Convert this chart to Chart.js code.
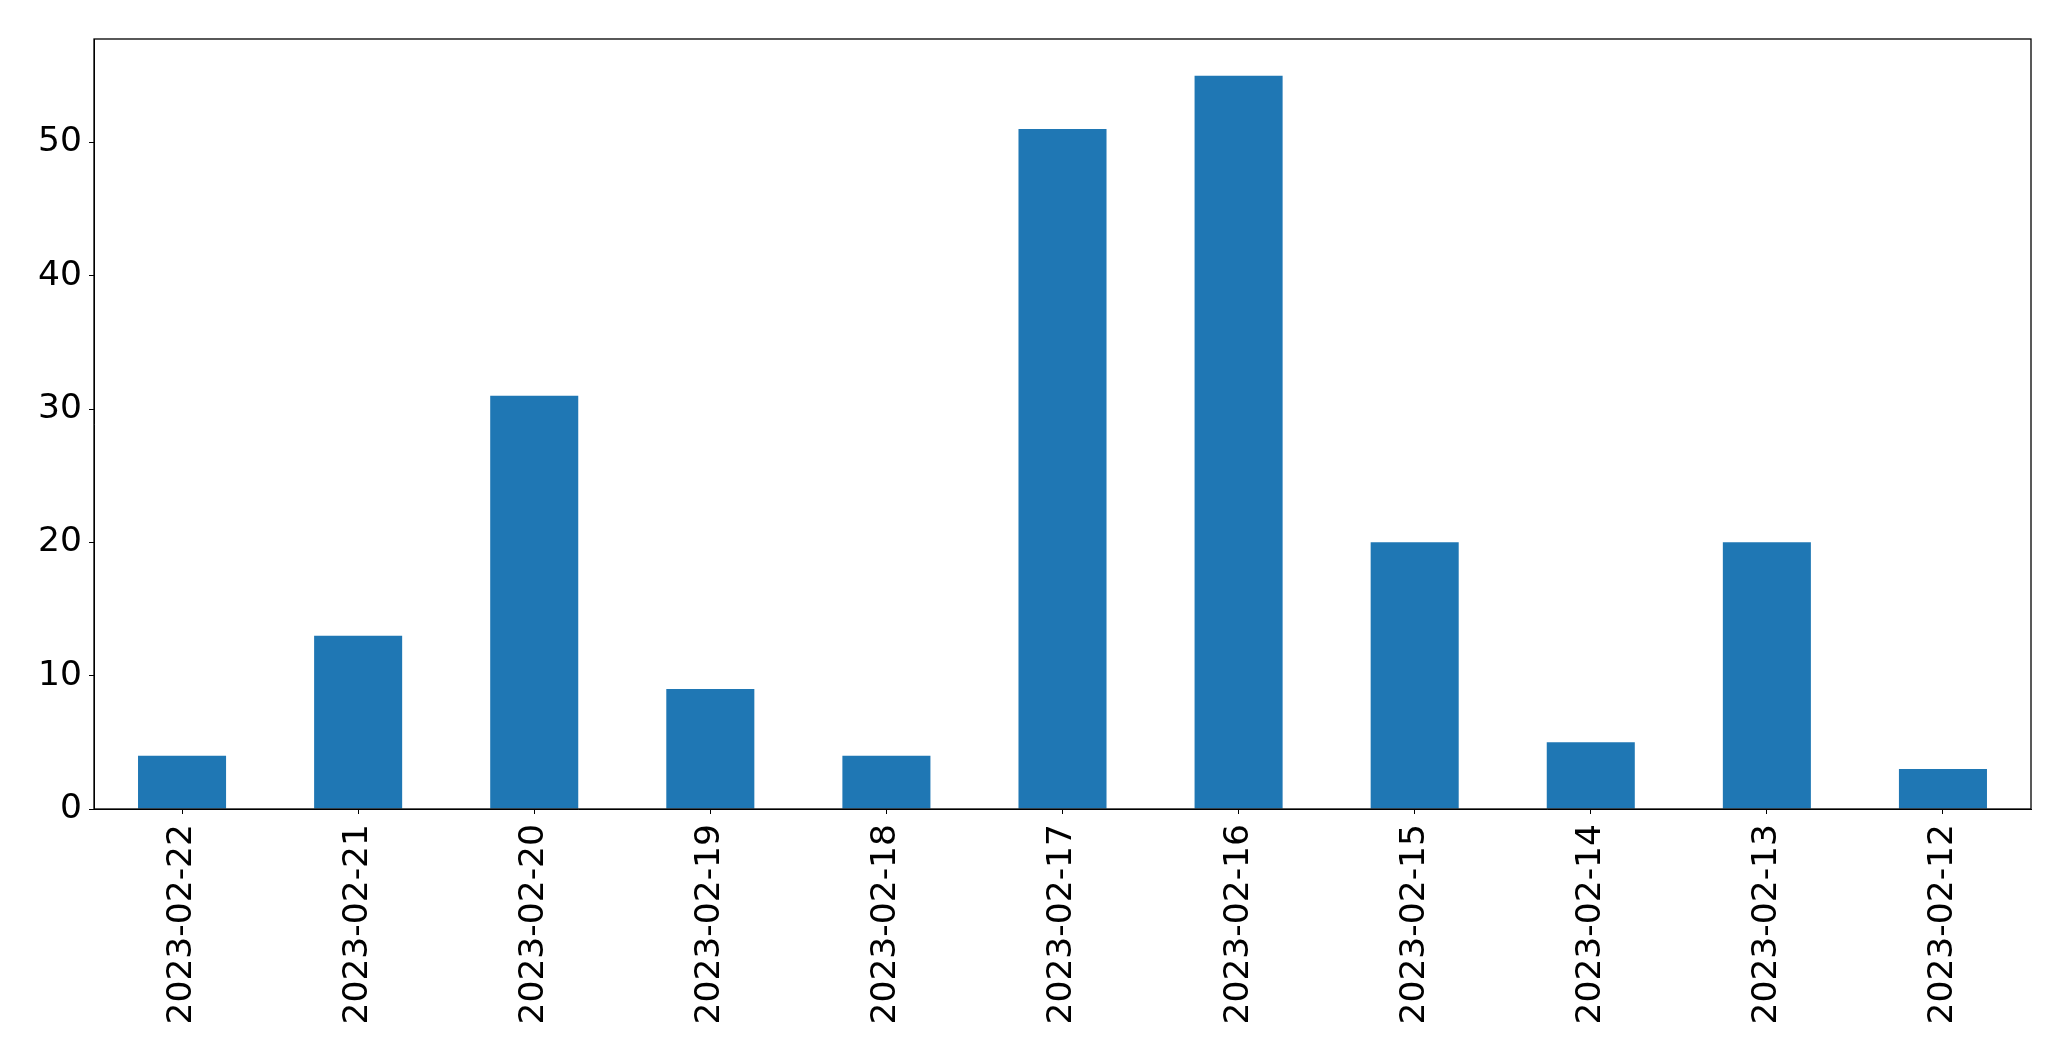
<!DOCTYPE html>
<html>
<head>
<meta charset="utf-8">
<script src="https://cdn.jsdelivr.net/npm/chart.js@4/dist/chart.umd.min.js"></script>
<style>
  html, body { margin: 0; padding: 0; background: #fff; }
  #wrap { width: 2071px; height: 1061px; }
</style>
</head>
<body>
<div id="wrap"><canvas id="barChart" width="2071" height="1061"></canvas></div>
<script>
const dates = ["2023-02-22", "2023-02-21", "2023-02-20", "2023-02-19", "2023-02-18", "2023-02-17",
  "2023-02-16", "2023-02-15", "2023-02-14", "2023-02-13", "2023-02-12"];
const counts = [4, 13, 31, 9, 4, 51, 55, 20, 5, 20, 3];
const yTicks = [0, 10, 20, 30, 40, 50];

const tickFont = { family: "DejaVu Sans", size: 34.5 };

// draws the full box round the plot area, like matplotlib does
const frameBox = {
  id: "frameBox",
  afterDraw(chart) {
    const { ctx, chartArea } = chart;
    ctx.save();
    ctx.strokeStyle = "#000";
    ctx.lineWidth = 1.3;
    ctx.strokeRect(chartArea.left, chartArea.top, chartArea.right - chartArea.left, chartArea.bottom - chartArea.top);
    ctx.restore();
  }
};

new Chart(document.getElementById("barChart").getContext("2d"), {
  type: "bar",
  data: {
    labels: dates,
    datasets: [{
      data: counts,
      backgroundColor: "#1f77b4",
      barPercentage: 0.5,
      categoryPercentage: 1.0
    }]
  },
  options: {
    responsive: false,
    animation: false,
    layout: { padding: { top: 39, right: 40, left: 0, bottom: 0 } },
    plugins: { legend: { display: false }, tooltip: { enabled: false } },
    scales: {
      x: {
        offset: true,
        grid: { offset: false, drawOnChartArea: false, tickLength: 5, color: "#000" },
        border: { color: "#000", width: 1 },
        ticks: { color: "#000", font: tickFont, minRotation: 90, maxRotation: 90, padding: 10 },
        afterFit(scale) { scale.height = 252; }
      },
      y: {
        min: 0,
        max: 57.75,
        afterBuildTicks(scale) { scale.ticks = yTicks.map(v => ({ value: v })); },
        grid: { drawOnChartArea: false, tickLength: 5, color: "#000" },
        border: { color: "#000", width: 1 },
        ticks: { color: "#000", font: tickFont, padding: 7 },
        afterFit(scale) { scale.width = 94; }
      }
    }
  },
  plugins: [frameBox]
});
</script>
</body>
</html>
